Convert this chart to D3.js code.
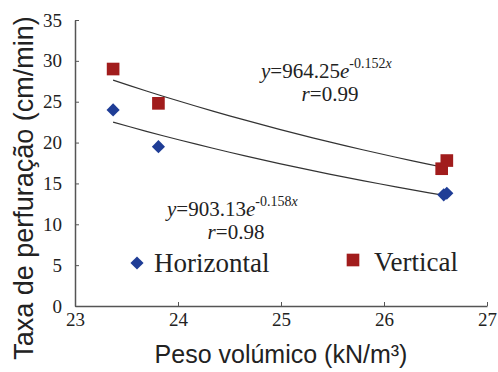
<!DOCTYPE html>
<html>
<head>
<meta charset="utf-8">
<script src="https://cdn.jsdelivr.net/npm/d3@7"></script>
<style>
  body { margin: 0; background: #fff; }
  svg { display: block; }
</style>
</head>
<body>
<svg width="498" height="372"></svg>
<script>
// DATA
const horizontalX = [23.37, 23.81, 26.58, 26.61];
const horizontalY = [24.0, 19.5, 13.6, 13.8];
const verticalX = [23.37, 23.81, 26.56, 26.61];
const verticalY = [29.0, 24.8, 16.8, 17.8];
const xTicks = [23, 24, 25, 26, 27];
const yTicks = [0, 5, 10, 15, 20, 25, 30, 35];
// trend y = a * e^(b x), from the equations printed on the chart
const horizontalFit = [903.13, -0.158];
const verticalFit = [964.25, -0.152];
const fitRange = [23.37, 26.6];

const svg = d3.select("svg");

// CONSTANTS
const margin = { top: 20, left: 75, right: 11, bottom: 66 };
const width = +svg.attr("width");
const height = +svg.attr("height");
const blue = "#1f3d96";
const red = "#a11c1c";
const axisColor = "#555";
const serif = "'Liberation Serif', 'Times New Roman', serif";
const sans = "'Liberation Sans', Arial, sans-serif";

// SCALES
const xScale = d3.scaleLinear().domain([23, 27]).range([margin.left, width - margin.right]);
const yScale = d3.scaleLinear().domain([0, 35]).range([height - margin.bottom, margin.top]);

// axes
const xAxis = svg.append("g")
  .attr("transform", `translate(0, ${yScale(0)})`)
  .call(d3.axisBottom(xScale).tickValues(xTicks).tickFormat(d3.format("d"))
    .tickSizeInner(-4).tickSizeOuter(0).tickPadding(7));
const yAxis = svg.append("g")
  .attr("transform", `translate(${xScale(23)}, 0)`)
  .call(d3.axisLeft(yScale).tickValues(yTicks).tickFormat(d3.format("d"))
    .tickSizeInner(-4).tickSizeOuter(0).tickPadding(13));

[xAxis, yAxis].forEach(a => {
  a.attr("font-family", null).attr("font-size", null);
  a.select(".domain").attr("stroke", axisColor).attr("stroke-width", 1.5);
  a.selectAll(".tick line").attr("stroke", axisColor);
  a.selectAll(".tick text")
    .attr("fill", "#222")
    .style("font-family", serif)
    .style("font-size", "19px");
});

// trend lines
const fitLine = d3.line().x(d => xScale(d[0])).y(d => yScale(d[1]));
[horizontalFit, verticalFit].forEach(f => {
  const pts = d3.range(0, 21).map(i => {
    const x = fitRange[0] + (fitRange[1] - fitRange[0]) * i / 20;
    return [x, f[0] * Math.exp(f[1] * x)];
  });
  svg.append("path")
    .attr("d", fitLine(pts))
    .attr("fill", "none")
    .attr("stroke", "#333")
    .attr("stroke-width", 1.2);
});

// points
const horizontal = horizontalX.map((x, i) => ({ x, y: horizontalY[i] }));
const vertical = verticalX.map((x, i) => ({ x, y: verticalY[i] }));
const diamond = d3.symbol().type(d3.symbolDiamond2).size(110);
const square = d3.symbol().type(d3.symbolSquare).size(160);

svg.append("g").selectAll("path").data(vertical).join("path")
  .attr("d", square)
  .attr("transform", d => `translate(${xScale(d.x)}, ${yScale(d.y)})`)
  .attr("fill", red);

svg.append("g").selectAll("path").data(horizontal).join("path")
  .attr("d", diamond)
  .attr("transform", d => `translate(${xScale(d.x)}, ${yScale(d.y)})`)
  .attr("fill", blue);

// equation labels
function equation(x, y, a, b, r) {
  const t = svg.append("text")
    .attr("x", x).attr("y", y)
    .style("font-family", serif)
    .style("font-size", "21px")
    .attr("fill", "#222");
  t.append("tspan").attr("font-style", "italic").text("y");
  t.append("tspan").text(`=${a}`);
  t.append("tspan").attr("font-style", "italic").text("e");
  t.append("tspan").style("font-size", "14px").attr("dy", -10).text(`-${b}`);
  t.append("tspan").style("font-size", "14px").attr("font-style", "italic").text("x");
  svg.append("text")
    .attr("x", x + 69).attr("y", y + 23)
    .attr("text-anchor", "middle")
    .style("font-family", serif)
    .style("font-size", "21px")
    .attr("fill", "#222")
    .call(s => s.append("tspan").attr("font-style", "italic").text("r"))
    .call(s => s.append("tspan").text(`=${r}`));
}
equation(261, 78, "964.25", "0.152", "0.99");
equation(167, 216, "903.13", "0.158", "0.98");

// legend
svg.append("path").attr("d", diamond).attr("transform", "translate(137, 263)").attr("fill", blue);
svg.append("text").attr("x", 154).attr("y", 272)
  .style("font-family", serif).style("font-size", "27px").attr("fill", "#222")
  .text("Horizontal");
svg.append("path").attr("d", square).attr("transform", "translate(353, 260)").attr("fill", red);
svg.append("text").attr("x", 374).attr("y", 271)
  .style("font-family", serif).style("font-size", "27px").attr("fill", "#222")
  .text("Vertical");

// axis titles
svg.append("text")
  .attr("x", 281).attr("y", 363)
  .attr("text-anchor", "middle")
  .style("font-family", sans).style("font-size", "25px").attr("fill", "#222")
  .text("Peso volúmico (kN/m³)");
svg.append("text")
  .attr("transform", `translate(33, 188) rotate(-90)`)
  .attr("text-anchor", "middle")
  .style("font-family", sans).style("font-size", "27px").attr("fill", "#222")
  .text("Taxa de perfuração (cm/min)");
</script>
</body>
</html>
